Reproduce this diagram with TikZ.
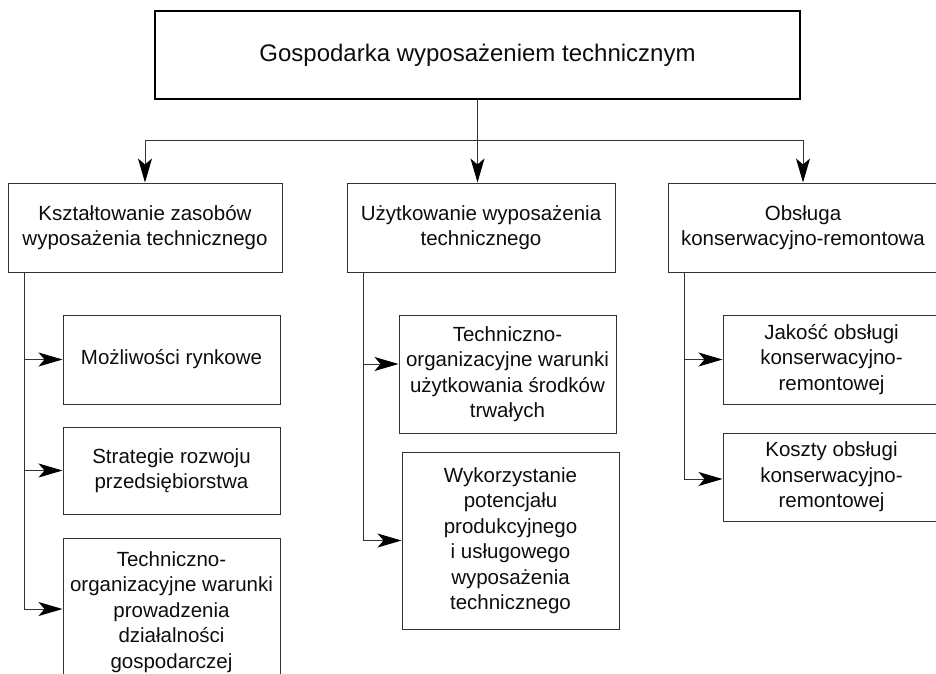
\documentclass[tikz,border=0pt]{standalone}
\usepackage{fontspec}
\setmainfont{Liberation Sans}
\usetikzlibrary{arrows.meta}
\tikzset{
  box/.style={draw=black!80,line width=1pt,align=center,inner sep=2pt,
    text=black!95,font=\fontsize{20.5}{25.5}\selectfont},
  topbox/.style={box,draw=black,line width=2.6pt,font=\fontsize{24}{28}\selectfont},
  conn/.style={draw=black!80,line width=1pt},
  arr/.style={conn,-{Stealth[length=24pt,width=14pt,inset=6pt,black]}}
}
\begin{document}
\begin{tikzpicture}[x=1pt,y=-1pt]
  \clip (0,0) rectangle (936,673);

  \node[topbox,minimum width=645,minimum height=88] (gosp) at (477.5,55)
    {Gospodarka wyposażeniem technicznym};

  \node[box,minimum width=274,minimum height=89] (kszt) at (145,227.5)
    {Kształtowanie zasobów\\wyposażenia technicznego};
  \node[box,minimum width=268,minimum height=89] (uzyt) at (481,227.5)
    {Użytkowanie wyposażenia\\technicznego};
  \node[box,minimum width=270,minimum height=89] (obsl) at (803,227.5)
    {Obsługa\\konserwacyjno-remontowa};

  \node[box,minimum width=217,minimum height=89] (rynek) at (171.5,359.5)
    {Możliwości rynkowe};
  \node[box,minimum width=217,minimum height=87] (strat) at (171.5,470.5)
    {Strategie rozwoju\\przedsiębiorstwa};
  \node[box,minimum width=217,minimum height=148] (prow) at (171.5,612)
    {Techniczno-\\organizacyjne warunki\\prowadzenia\\działalności\\gospodarczej};

  \node[box,minimum width=217,minimum height=118] (srodki) at (507.5,374)
    {Techniczno-\\organizacyjne warunki\\użytkowania środków\\trwałych};
  \node[box,minimum width=217,minimum height=177] (potenc) at (510.5,540.5)
    {Wykorzystanie\\potencjału\\produkcyjnego\\i usługowego\\wyposażenia\\technicznego};

  \node[box,minimum width=217,minimum height=89] (jakosc) at (831.5,359.5)
    {Jakość obsługi\\konserwacyjno-\\remontowej};
  \node[box,minimum width=217,minimum height=88] (koszty) at (831.5,477)
    {Koszty obsługi\\konserwacyjno-\\remontowej};

  \draw[conn] (gosp.south) -- ++(0,40) coordinate (hub);
  \draw[arr] (hub) -| (kszt.north);
  \draw[arr] (hub) -- (hub |- uzyt.north);
  \draw[arr] (hub) -| (obsl.north);

  \draw[arr] ([xshift=17pt]kszt.south west) |- (rynek.west);
  \draw[arr] ([xshift=17pt]kszt.south west) |- (strat.west);
  \draw[arr] ([xshift=17pt]kszt.south west) |- ([yshift=3pt]prow.west);

  \draw[arr] ([xshift=17pt]uzyt.south west) |- ([yshift=10pt]srodki.west);
  \draw[arr] ([xshift=17pt]uzyt.south west) |- (potenc.west);

  \draw[arr] ([xshift=17pt]obsl.south west) |- (jakosc.west);
  \draw[arr] ([xshift=17pt]obsl.south west) |- ([yshift=-2pt]koszty.west);
\end{tikzpicture}
\end{document}
